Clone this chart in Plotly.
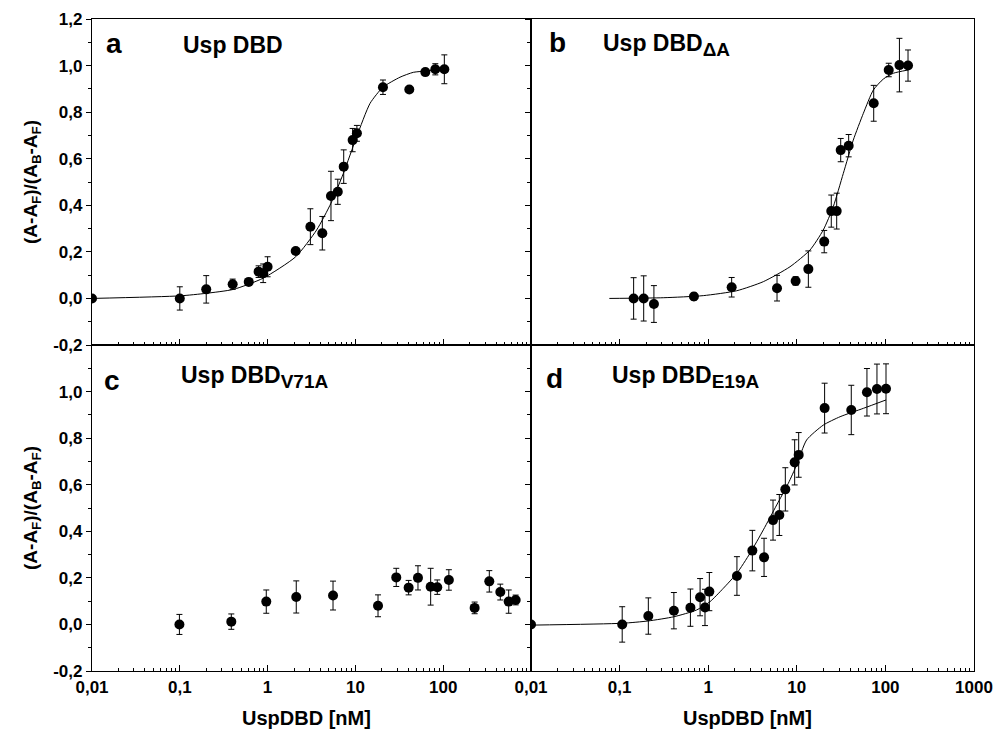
import plotly.graph_objects as go

# ---------------- data ----------------
a_x = [0.01, 0.1, 0.2, 0.4, 0.61, 0.79, 0.89, 1.0, 2.09, 3.07, 4.2, 5.27, 6.3, 7.36, 9.3, 10.4, 20.6, 41.1, 62.6, 81.3, 103]
a_y = [0.0, 0.0, 0.039, 0.061, 0.071, 0.115, 0.108, 0.136, 0.204, 0.308, 0.28, 0.44, 0.458, 0.566, 0.68, 0.709, 0.907, 0.897, 0.972, 0.984, 0.984]
a_err = [0, 0.05, 0.059, 0.022, 0.012, 0.025, 0.04, 0.043, 0.0, 0.077, 0.072, 0.106, 0.054, 0.072, 0.05, 0.034, 0.031, 0, 0.01, 0.024, 0.062]
a_fit_x = [0.01, 0.1, 0.2, 0.41, 0.89, 2.09, 3.62, 5.27, 7.3, 10.35, 14.7, 20.6, 32.2, 45.7, 64.9, 103]
a_fit_y = [0.0, 0.011, 0.022, 0.039, 0.087, 0.179, 0.294, 0.409, 0.537, 0.695, 0.838, 0.907, 0.95, 0.971, 0.977, 0.988]

b_x = [0.144, 0.187, 0.244, 0.69, 1.84, 5.98, 9.7, 13.5, 20.4, 24.5, 28.2, 31.3, 38.5, 73.8, 109, 144, 180]
b_y = [0.0, 0.0, -0.024, 0.008, 0.048, 0.044, 0.075, 0.126, 0.244, 0.375, 0.375, 0.637, 0.656, 0.838, 0.981, 1.002, 1.0]
b_err = [0.089, 0.097, 0.079, 0.015, 0.042, 0.055, 0.018, 0.078, 0.048, 0.069, 0.077, 0.05, 0.048, 0.077, 0.029, 0.115, 0.067]
b_fit_x = [0.0766, 0.311, 0.88, 2.1, 4.19, 8.38, 14.1, 19.9, 25.8, 33.5, 43.4, 56.4, 73.1, 94.7, 123, 180]
b_fit_y = [0.0, 0.003, 0.012, 0.033, 0.072, 0.136, 0.208, 0.294, 0.394, 0.537, 0.68, 0.795, 0.895, 0.942, 0.967, 0.981]

c_x = [0.099, 0.386, 0.966, 2.12, 5.56, 18.1, 29.2, 40.4, 51.6, 72, 85.6, 116, 228, 335, 447, 557, 669]
c_y = [0.0, 0.012, 0.098, 0.118, 0.124, 0.08, 0.202, 0.158, 0.2, 0.162, 0.16, 0.191, 0.071, 0.185, 0.139, 0.098, 0.105]
c_err = [0.043, 0.033, 0.05, 0.069, 0.062, 0.047, 0.039, 0.031, 0.052, 0.079, 0.031, 0.044, 0.025, 0.046, 0.034, 0.05, 0.021]

d_x = [0.01, 0.107, 0.211, 0.41, 0.63, 0.81, 0.92, 1.03, 2.11, 3.15, 4.27, 5.39, 6.35, 7.42, 9.46, 10.5, 20.6, 41.2, 61.9, 80.3, 101.6]
d_y = [0.0, 0.0, 0.036, 0.059, 0.072, 0.117, 0.073, 0.141, 0.208, 0.317, 0.288, 0.448, 0.47, 0.58, 0.696, 0.728, 0.929, 0.921, 0.997, 1.011, 1.012]
d_err = [0, 0.076, 0.078, 0.078, 0.08, 0.08, 0.078, 0.082, 0.083, 0.087, 0.082, 0.086, 0.088, 0.093, 0.097, 0.096, 0.107, 0.106, 0.102, 0.107, 0.107]
d_fit_x = [0.01, 0.107, 0.211, 0.41, 0.74, 1.05, 1.48, 2.11, 2.97, 4.19, 5.93, 8.02, 9.97, 12.9, 19.9, 30.8, 56.4, 101.6]
d_fit_y = [-0.003, 0.005, 0.015, 0.033, 0.062, 0.098, 0.155, 0.22, 0.306, 0.406, 0.513, 0.606, 0.685, 0.792, 0.856, 0.892, 0.928, 0.964]

x_tickvals_left = [0.01, 0.1, 1, 10, 100]
x_ticktext_left = ["0,01", "0,1", "1", "10", "100"]
x_tickvals_right = [0.01, 0.1, 1, 10, 100, 1000]
x_ticktext_right = ["0,01", "0,1", "1", "10", "100", "1000"]
y_tickvals_top = [-0.2, 0.0, 0.2, 0.4, 0.6, 0.8, 1.0, 1.2]
y_ticktext_top = ["-0,2", "0,0", "0,2", "0,4", "0,6", "0,8", "1,0", "1,2"]
y_tickvals_bottom = [-0.2, 0.0, 0.2, 0.4, 0.6, 0.8, 1.0]
y_ticktext_bottom = ["-0,2", "0,0", "0,2", "0,4", "0,6", "0,8", "1,0"]

panel_letters = ["a", "b", "c", "d"]
sub_style = "<sub><span style='font-size:19px'>{}</span></sub>"
panel_titles = ["Usp DBD",
                "Usp DBD" + sub_style.format("\u0394A"),
                "Usp DBD" + sub_style.format("V71A"),
                "Usp DBD" + sub_style.format("E19A")]
y_title = "(A-A<sub>F</sub>)/(A<sub>B</sub>-A<sub>F</sub>)"
x_title = "UspDBD [nM]"

# minor tick positions (2..9 in each decade; 0.1 steps on y)
x_minor = [m * 10 ** e for e in range(-2, 3) for m in range(2, 10)]
y_minor = [round(-0.1 + 0.2 * i, 1) for i in range(7)]

FONT = "Liberation Sans, Arial, sans-serif"

fig = go.Figure()

panels = [
    ("x", "y", a_x, a_y, a_err, a_fit_x, a_fit_y),
    ("x2", "y2", b_x, b_y, b_err, b_fit_x, b_fit_y),
    ("x3", "y3", c_x, c_y, c_err, None, None),
    ("x4", "y4", d_x, d_y, d_err, d_fit_x, d_fit_y),
]
for xa, ya, px, py, pe, fx, fy in panels:
    if fx is not None:
        fig.add_trace(go.Scatter(x=fx, y=fy, xaxis=xa, yaxis=ya, mode="lines",
                                 line=dict(color="black", width=1, shape="spline", smoothing=0.6),
                                 showlegend=False, hoverinfo="skip"))
    fig.add_trace(go.Scatter(x=px, y=py, xaxis=xa, yaxis=ya, mode="markers",
                             marker=dict(color="black", size=10),
                             error_y=dict(type="data", array=pe, visible=True,
                                          color="black", thickness=1, width=3),
                             showlegend=False))

XSPLIT = (531 - 92) / 882.0

tickfont = dict(family=FONT, size=17, color="black", weight="bold")


def xaxis(domain, anchor, tickvals, ticktext, show_labels):
    return dict(type="log", range=[-2, 3], domain=domain, anchor=anchor,
                showline=True, linecolor="black", linewidth=1.2, mirror=True,
                showgrid=False, zeroline=False, automargin=False,
                tickmode="array", tickvals=tickvals, ticktext=ticktext,
                ticks="inside", ticklen=6, tickwidth=1.2, tickcolor="black",
                showticklabels=show_labels, tickfont=tickfont,
                minor=dict(tickmode="array", tickvals=x_minor, ticks="inside",
                           ticklen=3, tickwidth=1, tickcolor="black"))


def yaxis(domain, anchor, tickvals, ticktext, show_labels):
    return dict(range=[-0.2, 1.2], domain=domain, anchor=anchor,
                showline=True, linecolor="black", linewidth=1.2, mirror=True,
                showgrid=False, zeroline=False, automargin=False,
                tickmode="array", tickvals=tickvals, ticktext=ticktext,
                ticks="outside", ticklen=5, tickwidth=1.2, tickcolor="black",
                showticklabels=show_labels, tickfont=tickfont,
                minor=dict(tickmode="array", tickvals=y_minor, ticks="outside",
                           ticklen=3, tickwidth=1, tickcolor="black"))


annotations = []


def px_to_paper(px, py):
    return (px - 92) / 882.0, (671 - py) / 652.0


letter_pos = [(104, 43), (547, 42), (102, 380), (544, 379)]
title_pos = [(181, 45), (601, 45), (179, 377), (610, 377)]
for (lx, ly), letter in zip(letter_pos, panel_letters):
    x, y = px_to_paper(lx, ly)
    annotations.append(dict(x=x, y=y, xref="paper", yref="paper", text=letter,
                            showarrow=False, xanchor="left", yanchor="middle",
                            font=dict(family=FONT, size=28, color="black", weight="bold")))
for (tx, ty), title in zip(title_pos, panel_titles):
    x, y = px_to_paper(tx, ty)
    annotations.append(dict(x=x, y=y, xref="paper", yref="paper", text=title,
                            showarrow=False, xanchor="left", yanchor="middle",
                            font=dict(family=FONT, size=23, color="black", weight="bold")))
for cy in (182, 508):
    x, y = px_to_paper(32, cy)
    annotations.append(dict(x=x, y=y, xref="paper", yref="paper", text=y_title,
                            showarrow=False, textangle=-90, xanchor="center", yanchor="middle",
                            font=dict(family=FONT, size=19, color="black", weight="bold")))
for cx in (306, 747):
    x, y = px_to_paper(cx, 718)
    annotations.append(dict(x=x, y=y, xref="paper", yref="paper", text=x_title,
                            showarrow=False, xanchor="center", yanchor="middle",
                            font=dict(family=FONT, size=20, color="black", weight="bold")))

fig.update_layout(
    width=1005, height=738,
    margin=dict(l=92, r=31, t=19, b=67, autoexpand=False),
    paper_bgcolor="white", plot_bgcolor="white",
    xaxis=xaxis([0, XSPLIT], "y", x_tickvals_left, x_ticktext_left, False),
    yaxis=yaxis([0.5, 1], "x", y_tickvals_top, y_ticktext_top, True),
    xaxis2=xaxis([XSPLIT, 1], "y2", x_tickvals_right, x_ticktext_right, False),
    yaxis2=yaxis([0.5, 1], "x2", y_tickvals_top, y_ticktext_top, False),
    xaxis3=xaxis([0, XSPLIT], "y3", x_tickvals_left, x_ticktext_left, True),
    yaxis3=yaxis([0, 0.5], "x3", y_tickvals_bottom, y_ticktext_bottom, True),
    xaxis4=xaxis([XSPLIT, 1], "y4", x_tickvals_right, x_ticktext_right, True),
    yaxis4=yaxis([0, 0.5], "x4", y_tickvals_bottom, y_ticktext_bottom, False),
    annotations=annotations,
    font=dict(family=FONT, color="black"),
)

fig.write_html("out.html",
               config={"displayModeBar": False},
               post_script="document.body.style.margin='0px';document.body.style.padding='0px';")
